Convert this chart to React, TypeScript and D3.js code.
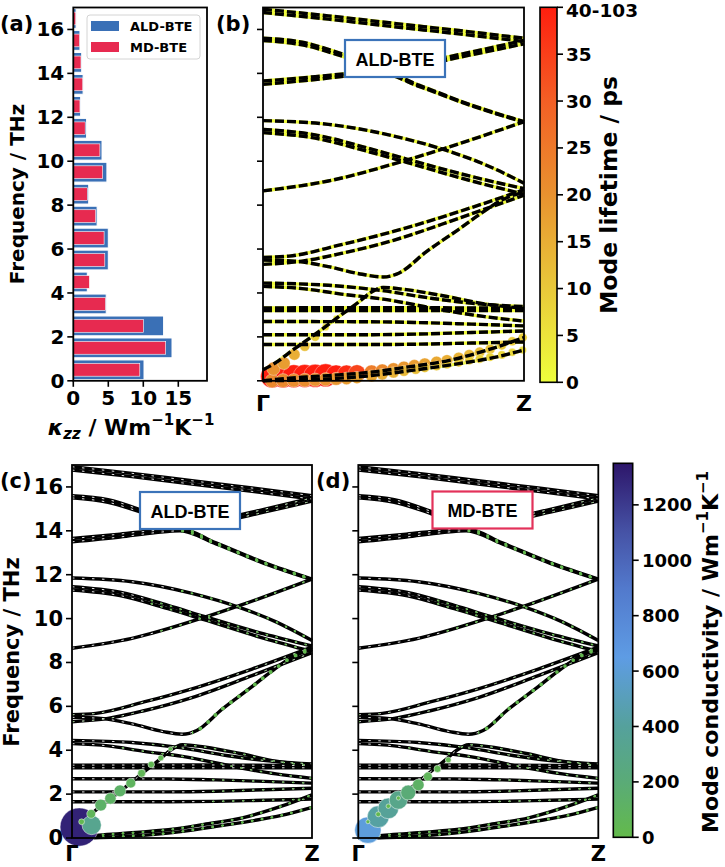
import * as d3 from 'd3';

const FONT = "'DejaVu Sans', Verdana, sans-serif";
const BOX_FONT = "'Liberation Sans', Arial, sans-serif";
const W = 725;
const H = 867;

// (a) kappa_zz per 1 THz frequency bin
const binLow = [0, 1, 2, 3, 4, 5, 6, 7, 8, 9, 10, 11, 12, 13, 14, 15, 16];
const kappaALD = [10.1, 14.1, 12.9, 4.7, 2.0, 5.0, 5.0, 3.4, 2.2, 4.8, 4.1, 1.9, 1.05, 1.4, 1.2, 0.95, 0.4];
const kappaMD = [9.5, 13.2, 10.0, 4.6, 2.3, 4.5, 4.4, 3.2, 2.0, 4.2, 3.8, 1.7, 0.95, 1.35, 1.1, 0.9, 0.35];

const freqTicks = [0, 2, 4, 6, 8, 10, 12, 14, 16];
const kappaTicks = [0, 5, 10, 15];
const lifetimeTicks = [0, 5, 10, 15, 20, 25, 30, 35, 40];
const lifetimeTickLabels = ['0', '5', '10', '15', '20', '25', '30', '35', '40-103'];
const condTicks = [0, 200, 400, 600, 800, 1000, 1200];

type P = [number, number];

// phonon branches along Gamma -> Z : [q (0..1), frequency THz]
const branches: P[][] = [
  [[0, 16.92], [0.25, 16.62], [0.5, 16.28], [0.75, 15.95], [1, 15.6]],
  [[0, 16.77], [0.25, 16.47], [0.5, 16.13], [0.75, 15.8], [1, 15.45]],
  [[0, 15.6], [0.15, 15.42], [0.3, 14.9], [0.45, 14.28], [0.6, 14.5], [0.8, 14.98], [1, 15.5]],
  [[0, 15.5], [0.15, 15.3], [0.3, 14.8], [0.45, 14.2], [0.6, 14.38], [0.8, 14.85], [1, 15.35]],
  [[0, 13.65], [0.2, 13.85], [0.35, 14.02], [0.45, 14.1], [0.6, 13.45], [0.8, 12.55], [1, 11.8]],
  [[0, 13.5], [0.2, 13.72], [0.35, 13.92], [0.45, 14.0], [0.6, 13.4], [0.8, 12.52], [1, 11.78]],
  [[0, 11.85], [0.25, 11.68], [0.5, 11.15], [0.7, 10.5], [0.85, 9.85], [1, 9.0]],
  [[0, 11.45], [0.2, 11.2], [0.4, 10.6], [0.55, 10.1], [0.8, 9.3], [1, 8.75]],
  [[0, 11.3], [0.2, 11.05], [0.4, 10.45], [0.55, 9.95], [0.8, 9.1], [1, 8.5]],
  [[0, 8.65], [0.25, 9.1], [0.55, 10.05], [0.7, 10.6], [1, 11.8]],
  [[0, 5.62], [0.1, 5.68], [0.3, 6.2], [0.5, 6.8], [0.75, 7.7], [1, 8.7]],
  [[0, 5.3], [0.15, 5.45], [0.3, 5.8], [0.5, 6.4], [0.75, 7.4], [1, 8.45]],
  [[0, 5.5], [0.12, 5.45], [0.25, 5.2], [0.38, 4.85], [0.46, 4.73], [0.52, 4.9], [0.625, 5.87], [0.75, 6.9], [0.83, 7.58], [0.92, 8.26], [1, 8.6]],
  [[0, 4.45], [0.25, 4.35], [0.45, 4.12], [0.65, 3.75], [0.85, 3.48], [1, 3.38]],
  [[0, 0.5], [0.04, 0.76], [0.12, 1.45], [0.2, 2.12], [0.29, 2.92], [0.37, 3.62], [0.41, 4.0], [0.46, 4.25], [0.55, 4.15], [0.7, 3.85], [0.85, 3.5], [1, 3.3]],
  [[0, 4.3], [0.15, 4.2], [0.3, 3.95], [0.46, 3.72], [0.7, 3.2], [0.85, 2.92], [1, 2.72]],
  [[0, 3.32], [0.5, 3.33], [1, 3.3]],
  [[0, 3.2], [0.5, 3.2], [1, 3.2]],
  [[0, 2.7], [0.4, 2.69], [0.6, 2.65], [0.8, 2.58], [1, 2.5]],
  [[0, 2.1], [0.4, 2.1], [0.6, 2.13], [0.8, 2.2], [1, 2.27]],
  [[0, 1.65], [0.4, 1.65], [0.6, 1.67], [0.8, 1.72], [1, 1.77]],
  [[0, 0], [0.1, 0.12], [0.2, 0.2], [0.3, 0.28], [0.42, 0.4], [0.55, 0.62], [0.71, 0.92], [0.87, 1.44], [1, 1.97]],
  [[0, 0], [0.2, 0.06], [0.4, 0.22], [0.585, 0.5], [0.75, 0.78], [0.873, 1.03], [1, 1.4]],
];

// q from which each branch carries visible mode conductivity, and typical value (W/mK)
const dotFromQ = [0, 0, 0.5, 0.5, 0.45, 0.45, 0.45, 0.3, 0.3, 0.35, 0, 0, 0.5, 0.3, 0.42, 0.2, 0, 0, 0.55, 0.55, 0.55, 0.08, 0.12];
const dotKappaALD = [0, 0, 1, 1, 9, 9, 5, 4, 4, 4, 1, 1, 14, 2, 3, 3, 0, 0, 3, 3, 3, 6, 7];
const dotKappaMD = [0, 0, 1, 1, 8, 8, 5, 4, 4, 4, 1, 1, 12, 2, 3, 3, 0, 0, 3, 3, 3, 6, 7];

// (b) mode lifetime scatter: [q, freq, lifetime ps]
const lifetimeDots: [number, number, number][] = [
  [0.035, 0.2, 103], [0.077, 0.2, 95], [0.118, 0.21, 88], [0.16, 0.22, 80], [0.2, 0.23, 72], [0.24, 0.25, 60],
  [0.28, 0.27, 45], [0.32, 0.3, 38], [0.36, 0.34, 34], [0.416, 0.39, 24], [0.457, 0.45, 22], [0.5, 0.52, 20],
  [0.54, 0.6, 19], [0.58, 0.68, 18], [0.62, 0.76, 17], [0.665, 0.85, 16], [0.705, 0.93, 15], [0.75, 1.05, 14],
  [0.79, 1.18, 13], [0.83, 1.3, 12], [0.87, 1.44, 11], [0.915, 1.62, 10], [0.955, 1.8, 9.5], [0.995, 1.97, 9],
  [0.035, 0.0, 22], [0.077, 0.01, 22], [0.118, 0.02, 21], [0.16, 0.03, 21], [0.2, 0.05, 20], [0.24, 0.07, 20],
  [0.28, 0.09, 19], [0.32, 0.11, 18], [0.36, 0.15, 17], [0.416, 0.22, 16], [0.457, 0.3, 15], [0.5, 0.38, 14],
  [0.54, 0.45, 13], [0.585, 0.53, 12], [0.62, 0.6, 11], [0.665, 0.68, 10.5], [0.705, 0.76, 10], [0.75, 0.84, 9.5],
  [0.79, 0.93, 9], [0.83, 1.0, 8.5], [0.87, 1.08, 8], [0.915, 1.18, 7.5], [0.955, 1.3, 7], [0.995, 1.4, 6.5],
  [0.04, 0.55, 20], [0.08, 0.8, 18], [0.12, 1.2, 15], [0.16, 1.58, 12], [0.2, 2.0, 9], [0.24, 2.45, 6], [0.28, 2.85, 4],
];

// (c) ALD-BTE mode conductivity scatter: [q, freq, W/mK]
const condDotsALD: [number, number, number][] = [
  [0.03, 0.5, 1300], [0.082, 0.59, 330],
  [0.04, 0.74, 30], [0.08, 1.1, 70], [0.12, 1.5, 125], [0.16, 1.8, 115], [0.2, 2.15, 125],
  [0.245, 2.5, 85], [0.29, 2.95, 55], [0.33, 3.35, 38], [0.37, 3.65, 30], [0.41, 4.06, 18],
];

// (d) MD-BTE mode conductivity scatter
const condDotsMD: [number, number, number][] = [
  [0.04, 0.36, 620], [0.083, 0.97, 420], [0.125, 1.35, 380], [0.167, 1.73, 300], [0.208, 2.07, 200],
  [0.25, 2.42, 120], [0.29, 2.8, 70], [0.33, 3.15, 45], [0.375, 3.56, 30],
  [0.04, 0.74, 14], [0.083, 1.08, 22], [0.125, 1.45, 18], [0.167, 1.82, 15],
];

const lifetimeColor = d3
  .scaleLinear<string>()
  .domain([0, 10, 20, 30, 40])
  .range(['#eeff3c', '#e9c93a', '#e9922f', '#f35f25', '#ff1f0f'])
  .clamp(true);

const condColor = d3
  .scaleLinear<string>()
  .domain([0, 200, 400, 650, 900, 1100, 1350])
  .range(['#63ba4b', '#5aab77', '#55a19c', '#5e9ce4', '#5279cc', '#4653a6', '#2d166a'])
  .clamp(true);

const rLifetime = d3.scaleSqrt().domain([0, 60]).range([0, 11.5]).clamp(true);
const rCond = d3.scaleSqrt().domain([0, 1350]).range([0, 19.5]);

const yTop = d3.scaleLinear().domain([0, 17]).range([380.8, 7.5]);
const yBot = d3.scaleLinear().domain([0, 17]).range([838, 465]);

function YTicks({ y, x, labels, size }: { y: d3.ScaleLinear<number, number>; x: number; labels: boolean; size: number }) {
  return (
    <g>
      {freqTicks.map((t) => (
        <g key={t}>
          <line x1={x - 6} x2={x} y1={y(t)} y2={y(t)} stroke="#000" strokeWidth={1.6} />
          {labels && (
            <text x={x - 9} y={y(t)} textAnchor="end" dominantBaseline="central" fontSize={size} fontWeight="bold">
              {t}
            </text>
          )}
        </g>
      ))}
    </g>
  );
}

function PanelA() {
  const x = d3.scaleLinear().domain([0, 19.1]).range([73.3, 207]);
  const y = yTop;
  const bh = y(0) - y(0.9);
  const bhMd = y(0) - y(0.58);
  return (
    <g>
      {binLow.map((b, i) => (
        <rect key={'ald' + b} x={x(0)} y={y(b + 0.5) - bh / 2} width={x(kappaALD[i]) - x(0)} height={bh}
          fill="#3a70b6" stroke="#fff" strokeWidth={1} />
      ))}
      {binLow.map((b, i) => (
        <rect key={'md' + b} x={x(0)} y={y(b + 0.5) - bhMd / 2} width={x(kappaMD[i]) - x(0)} height={bhMd}
          fill="#e72a50" stroke="#fff" strokeWidth={0.6} />
      ))}
      <rect x={x(0)} y={y(17)} width={x(19.1) - x(0)} height={y(0) - y(17)} fill="none" stroke="#000" strokeWidth={1.8} />
      <YTicks y={y} x={x(0)} labels size={20} />
      {kappaTicks.map((t) => (
        <g key={t}>
          <line x1={x(t)} x2={x(t)} y1={y(0)} y2={y(0) + 6} stroke="#000" strokeWidth={1.6} />
          <text x={x(t)} y={405} textAnchor="middle" fontSize={20} fontWeight="bold">{t}</text>
        </g>
      ))}
      <g>
        <rect x={87} y={15} width={113} height={44} rx={3} fill="#fff" stroke="#d4d4d4" strokeWidth={1} />
        <rect x={91} y={21} width={28} height={10} fill="#3a70b6" />
        <rect x={91} y={42} width={28} height={10} fill="#e72a50" />
        <text x={130} y={26.5} dominantBaseline="central" fontSize={13} fontWeight="bold">ALD-BTE</text>
        <text x={130} y={47.5} dominantBaseline="central" fontSize={13} fontWeight="bold">MD-BTE</text>
      </g>
      <text transform="translate(24,194) rotate(-90)" textAnchor="middle" fontSize={20} fontWeight="bold">Frequency / THz</text>
      <text x={131} y={435} textAnchor="middle" fontSize={22} fontWeight="bold">
        <tspan fontStyle="italic">κ</tspan>
        <tspan fontSize={15} dy={4} fontStyle="italic">zz</tspan>
        <tspan dy={-4}> / Wm</tspan>
        <tspan fontSize={15} dy={-10}>−1</tspan>
        <tspan dy={10}>K</tspan>
        <tspan fontSize={15} dy={-10}>−1</tspan>
      </text>
    </g>
  );
}

function LabelBox({ cx, cy, text, color }: { cx: number; cy: number; text: string; color: string }) {
  return (
    <g>
      <rect x={cx - 50} y={cy - 18.5} width={100} height={37} fill="#fff" stroke={color} strokeWidth={2.2} />
      <text x={cx} y={cy + 1} textAnchor="middle" dominantBaseline="central" fontFamily={BOX_FONT} fontSize={18} fontWeight="bold">{text}</text>
    </g>
  );
}

function PanelB() {
  const x = d3.scaleLinear().domain([0, 1]).range([263, 524]);
  const y = yTop;
  const line = d3.line<P>().x((d) => x(d[0])).y((d) => y(d[1])).curve(d3.curveMonotoneX);
  const dots = [...lifetimeDots].sort((a, b) => b[2] - a[2]);
  return (
    <g>
      {branches.map((b, i) => (
        <path key={'y' + i} d={line(b) ?? ''} fill="none" stroke={lifetimeColor(1.2)} strokeWidth={3.4} />
      ))}
      {dots.map((d, i) => (
        <circle key={i} cx={x(d[0])} cy={y(d[1])} r={rLifetime(d[2])} fill={lifetimeColor(d[2])}
          stroke="#fff" strokeOpacity={0.6} strokeWidth={0.6} />
      ))}
      {branches.map((b, i) => (
        <path key={'k' + i} d={line(b) ?? ''} fill="none" stroke="#000" strokeWidth={3.4} strokeDasharray="9 3" />
      ))}
      <rect x={x(0)} y={y(17)} width={x(1) - x(0)} height={y(0) - y(17)} fill="none" stroke="#000" strokeWidth={1.8} />
      <YTicks y={y} x={x(0)} labels={false} size={20} />
      <text x={x(0)} y={410.5} textAnchor="middle" fontSize={22} fontWeight="bold">Γ</text>
      <text x={x(1)} y={410.5} textAnchor="middle" fontSize={22} fontWeight="bold">Z</text>
      <LabelBox cx={395} cy={58.5} text="ALD-BTE" color="#3b73b9" />
    </g>
  );
}

function LifetimeBar() {
  const y = d3.scaleLinear().domain([0, 40]).range([382.3, 7.3]);
  const stops = [0, 5, 10, 15, 20, 25, 30, 35, 40];
  return (
    <g>
      <defs>
        <linearGradient id="lt-grad" x1="0" y1="1" x2="0" y2="0">
          {stops.map((s) => (
            <stop key={s} offset={s / 40} stopColor={lifetimeColor(s)} />
          ))}
        </linearGradient>
      </defs>
      <rect x={540} y={y(40)} width={17} height={y(0) - y(40)} fill="url(#lt-grad)" stroke="#000" strokeWidth={1.6} />
      {lifetimeTicks.map((t, i) => (
        <g key={t}>
          <line x1={557} x2={563} y1={y(t)} y2={y(t)} stroke="#000" strokeWidth={1.6} />
          <text x={566} y={Math.max(y(t), 10)} dominantBaseline="central" fontSize={18.5} fontWeight="bold">{lifetimeTickLabels[i]}</text>
        </g>
      ))}
      <text transform="translate(617,195) rotate(-90)" textAnchor="middle" fontSize={23.5} fontWeight="bold">Mode lifetime / ps</text>
    </g>
  );
}

function PanelCD({ left, right, kappaDots, circles, id }: {
  left: number; right: number; kappaDots: number[]; circles: [number, number, number][]; id: string;
}) {
  const x = d3.scaleLinear().domain([0, 1]).range([left, right]);
  const y = yBot;
  const line = d3.line<P>().x((d) => x(d[0])).y((d) => y(d[1])).curve(d3.curveMonotoneX);
  const dots = [...circles].sort((a, b) => b[2] - a[2]);
  return (
    <g>
      <defs>
        {branches.map((_, i) => (
          <clipPath key={i} id={`${id}-clip-${i}`}>
            <rect x={x(dotFromQ[i])} y={0} width={right - x(dotFromQ[i]) + 4} height={H} />
          </clipPath>
        ))}
      </defs>
      {branches.map((b, i) => (
        <path key={'k' + i} d={line(b) ?? ''} fill="none" stroke="#000" strokeWidth={3.4} />
      ))}
      {branches.map((b, i) => (
        <path key={'w' + i} d={line(b) ?? ''} fill="none" stroke="#fff" strokeWidth={0.9} strokeDasharray="2.5 7.5" />
      ))}
      {branches.map((b, i) =>
        kappaDots[i] > 0 ? (
          <path key={'g' + i} d={line(b) ?? ''} fill="none" clipPath={`url(#${id}-clip-${i})`}
            stroke={condColor(kappaDots[i])} strokeWidth={2 * rCond(kappaDots[i])}
            strokeLinecap="round" strokeDasharray="0 10" strokeDashoffset={-1.25} />
        ) : null,
      )}
      {dots.map((d, i) => (
        <circle key={i} cx={x(d[0])} cy={y(d[1])} r={rCond(d[2])} fill={condColor(d[2])}
          stroke="#fff" strokeOpacity={0.7} strokeWidth={0.7} />
      ))}
      <rect x={x(0)} y={y(17)} width={x(1) - x(0)} height={y(0) - y(17)} fill="none" stroke="#000" strokeWidth={1.8} />
      <text x={x(0)} y={861} textAnchor="middle" fontSize={21} fontWeight="bold">Γ</text>
      <text x={x(1)} y={861} textAnchor="middle" fontSize={21} fontWeight="bold">Z</text>
    </g>
  );
}

function CondBar() {
  const y = d3.scaleLinear().domain([0, 1350]).range([837.3, 463.3]);
  const stops = [0, 200, 400, 650, 900, 1100, 1350];
  return (
    <g>
      <defs>
        <linearGradient id="cond-grad" x1="0" y1="1" x2="0" y2="0">
          {stops.map((s) => (
            <stop key={s} offset={s / 1350} stopColor={condColor(s)} />
          ))}
        </linearGradient>
      </defs>
      <rect x={613.3} y={y(1350)} width={19.4} height={y(0) - y(1350)} fill="url(#cond-grad)" stroke="#000" strokeWidth={1.6} />
      {condTicks.map((t) => (
        <g key={t}>
          <line x1={632.7} x2={638.7} y1={y(t)} y2={y(t)} stroke="#000" strokeWidth={1.6} />
          <text x={642} y={y(t)} dominantBaseline="central" fontSize={18} fontWeight="bold">{t}</text>
        </g>
      ))}
      <text transform="translate(718,652) rotate(-90)" textAnchor="middle" fontSize={22} fontWeight="bold">
        Mode conductivity / Wm<tspan fontSize={15} dy={-10}>−1</tspan><tspan dy={10}>K</tspan><tspan fontSize={15} dy={-10}>−1</tspan>
      </text>
    </g>
  );
}

export default function App() {
  return (
    <div style={{ position: 'absolute', left: 0, top: 0 }}>
      <svg width={W} height={H} viewBox={`0 0 ${W} ${H}`} fontFamily={FONT} style={{ display: 'block', background: '#fff' }}>
        <PanelA />
        <PanelB />
        <LifetimeBar />
        <PanelCD left={72} right={312} kappaDots={dotKappaALD} circles={condDotsALD} id="c" />
        <YTicks y={yBot} x={72} labels size={21} />
        <text transform="translate(19,652) rotate(-90)" textAnchor="middle" fontSize={21} fontWeight="bold">Frequency / THz</text>
        <LabelBox cx={190} cy={510.5} text="ALD-BTE" color="#3b73b9" />
        <PanelCD left={358.3} right={598.3} kappaDots={dotKappaMD} circles={condDotsMD} id="d" />
        <YTicks y={yBot} x={358.3} labels={false} size={21} />
        <LabelBox cx={482.5} cy={510} text="MD-BTE" color="#e3325a" />
        <CondBar />
        <text x={0} y={31} fontSize={21} fontWeight="bold">(a)</text>
        <text x={216} y={31} fontSize={21} fontWeight="bold">(b)</text>
        <text x={0} y={488} fontSize={21} fontWeight="bold">(c)</text>
        <text x={316} y={488} fontSize={21} fontWeight="bold">(d)</text>
      </svg>
    </div>
  );
}
